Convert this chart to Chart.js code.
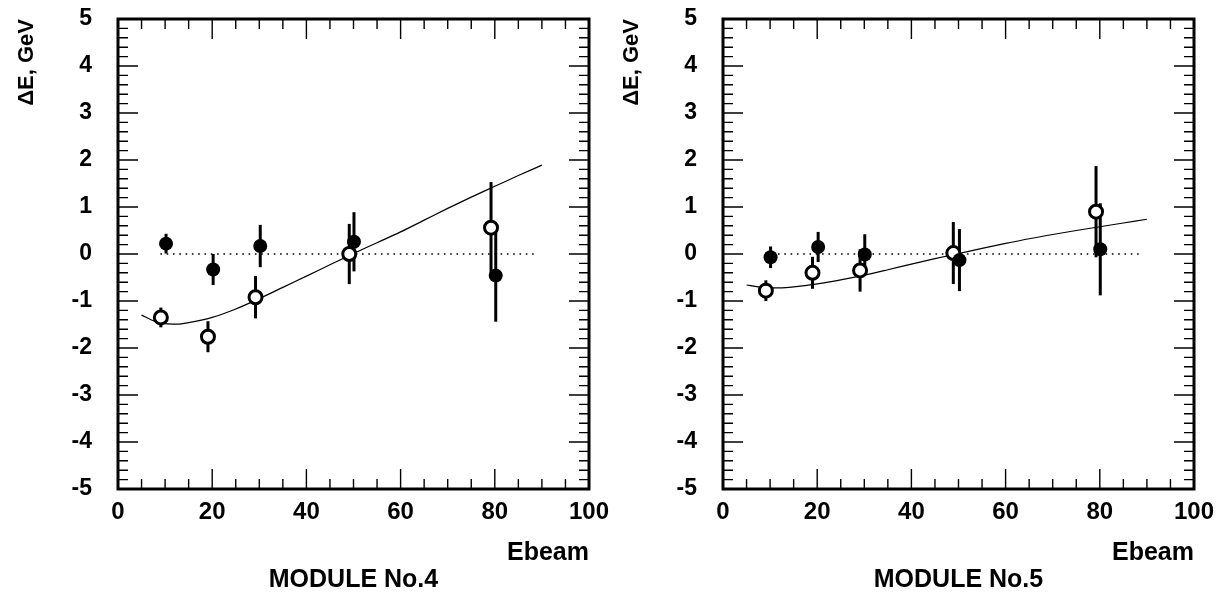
<!DOCTYPE html>
<html>
<head>
<meta charset="utf-8">
<script src="https://cdn.jsdelivr.net/npm/chart.js@4.4.0/dist/chart.umd.min.js"></script>
<style>
  body { margin: 0; background: #fff; }
  canvas { position: absolute; top: 0; }
  #module4 { left: 0; }
  #module5 { left: 605px; }
</style>
</head>
<body>
<canvas id="module4" width="610" height="593"></canvas>
<canvas id="module5" width="610" height="593"></canvas>
<script>
'use strict';

// axis ticks
const xTicks = [0, 20, 40, 60, 80, 100];
const yTicks = [-5, -4, -3, -2, -1, 0, 1, 2, 3, 4, 5];

// dotted zero line range
const zeroX = [9, 89];

// module 4 - open and filled points, with errors
const m4OpenX = [9.1, 19.1, 29.2, 49.1, 79.2];
const m4Open = [-1.35, -1.76, -0.92, 0.0, 0.56];
const m4OpenErr = [0.21, 0.33, 0.45, 0.64, 0.97];
const m4FilledX = [10.2, 20.2, 30.2, 50.1, 80.2];
const m4Filled = [0.22, -0.33, 0.17, 0.26, -0.46];
const m4FilledErr = [0.21, 0.33, 0.45, 0.63, 0.98];

// module 5
const m5OpenX = [9.1, 19.0, 29.1, 48.9, 79.2];
const m5Open = [-0.78, -0.40, -0.35, 0.02, 0.90];
const m5OpenErr = [0.22, 0.34, 0.45, 0.66, 0.97];
const m5FilledX = [10.1, 20.2, 30.1, 50.2, 80.1];
const m5Filled = [-0.07, 0.15, -0.01, -0.13, 0.10];
const m5FilledErr = [0.23, 0.32, 0.43, 0.66, 0.98];

// fit curves
const fitX = [5, 7.5, 10, 12.5, 15, 20, 25, 30, 35, 40, 45, 50, 55, 60, 65, 70, 75, 80, 85, 90];
const m4Fit = [-1.30, -1.42, -1.48, -1.49, -1.46, -1.35, -1.17, -0.95, -0.71, -0.47, -0.23, 0.01, 0.24, 0.47, 0.72, 0.97, 1.21, 1.44, 1.67, 1.89];
const m5Fit = [-0.66, -0.70, -0.72, -0.72, -0.70, -0.635, -0.55, -0.45, -0.335, -0.215, -0.10, 0.01, 0.12, 0.225, 0.325, 0.415, 0.50, 0.58, 0.66, 0.74];

const FONT = 'Liberation Sans';

function pts(xs, ys) {
  return xs.map((x, i) => ({ x: x, y: ys[i] }));
}

// error bars under the markers
const errorBars = {
  id: 'errorBars',
  beforeDatasetsDraw(chart) {
    const ctx = chart.ctx;
    const yScale = chart.scales.y;
    ctx.save();
    ctx.strokeStyle = '#000';
    ctx.lineWidth = 3;
    chart.data.datasets.forEach((ds, i) => {
      if (!ds.errors) return;
      const meta = chart.getDatasetMeta(i);
      ds.data.forEach((p, j) => {
        const px = meta.data[j].x;
        ctx.beginPath();
        ctx.moveTo(px, yScale.getPixelForValue(p.y - ds.errors[j]));
        ctx.lineTo(px, yScale.getPixelForValue(p.y + ds.errors[j]));
        ctx.stroke();
      });
    });
    ctx.restore();
  }
};

// box frame with inward ticks on all sides + module label
const frame = {
  id: 'frame',
  afterDraw(chart, args, opts) {
    const ctx = chart.ctx;
    const a = chart.chartArea;
    const xs = chart.scales.x;
    const ys = chart.scales.y;
    ctx.save();
    ctx.strokeStyle = '#000';
    ctx.lineWidth = 1.4;
    ctx.beginPath();
    for (let v = 0; v <= 100; v += 5) {
      const len = v % 20 === 0 ? 20 : 10;
      const px = xs.getPixelForValue(v);
      ctx.moveTo(px, a.bottom); ctx.lineTo(px, a.bottom - len);
      ctx.moveTo(px, a.top); ctx.lineTo(px, a.top + len);
    }
    for (let k = -25; k <= 25; k++) {
      const len = k % 5 === 0 ? 20 : 10;
      const py = ys.getPixelForValue(k / 5);
      ctx.moveTo(a.left, py); ctx.lineTo(a.left + len, py);
      ctx.moveTo(a.right, py); ctx.lineTo(a.right - len, py);
    }
    ctx.stroke();
    ctx.lineWidth = 3;
    ctx.strokeRect(a.left, a.top, a.right - a.left, a.bottom - a.top);
    ctx.fillStyle = '#000';
    ctx.font = 'bold 25px "' + FONT + '"';
    ctx.textAlign = 'center';
    ctx.textBaseline = 'middle';
    ctx.fillText(opts.label, (a.left + a.right) / 2, 580);
    ctx.restore();
  }
};

function makeChart(id, label, openX, open, openErr, filledX, filled, filledErr, fit, openOnTop) {
  const ctx = document.getElementById(id).getContext('2d');
  return new Chart(ctx, {
    type: 'scatter',
    data: {
      datasets: [
        {
          data: pts(fitX, fit),
          showLine: true,
          borderColor: '#000',
          borderWidth: 1.2,
          pointRadius: 0,
          cubicInterpolationMode: 'monotone',
          order: 5
        },
        {
          data: pts(zeroX, [0, 0]),
          showLine: true,
          borderColor: '#000',
          borderWidth: 1.6,
          borderDash: [1.6, 4.7],
          pointRadius: 0,
          order: 4
        },
        {
          data: pts(openX, open),
          errors: openErr,
          pointRadius: 6.5,
          borderWidth: 3,
          borderColor: '#000',
          backgroundColor: '#fff',
          order: openOnTop ? 1 : 2
        },
        {
          data: pts(filledX, filled),
          errors: filledErr,
          pointRadius: 7,
          borderWidth: 0,
          backgroundColor: '#000',
          order: openOnTop ? 2 : 1
        }
      ]
    },
    options: {
      responsive: false,
      animation: false,
      devicePixelRatio: 1,
      layout: { padding: { left: 0, right: 21, top: 19, bottom: 0 } },
      plugins: {
        legend: { display: false },
        tooltip: { enabled: false },
        frame: { label: label }
      },
      scales: {
        x: {
          type: 'linear',
          min: 0,
          max: 100,
          afterBuildTicks: s => { s.ticks = xTicks.map(v => ({ value: v })); },
          afterFit: s => { s.height = 104; s.paddingLeft = 0; s.paddingRight = 0; },
          grid: { display: false, drawTicks: false },
          border: { display: false },
          ticks: {
            color: '#000',
            maxRotation: 0,
            autoSkip: false,
            padding: 9,
            font: { family: FONT, weight: 'bold', size: 24 }
          },
          title: {
            display: true,
            text: 'Ebeam',
            align: 'end',
            color: '#000',
            font: { family: FONT, weight: 'bold', size: 25 },
            padding: { top: 0, bottom: 25 }
          }
        },
        y: {
          type: 'linear',
          min: -5,
          max: 5,
          afterBuildTicks: s => { s.ticks = yTicks.map(v => ({ value: v })); },
          afterFit: s => { s.width = 118; s.paddingTop = 0; s.paddingBottom = 0; },
          grid: { display: false, drawTicks: false },
          border: { display: false },
          ticks: {
            color: '#000',
            autoSkip: false,
            padding: 26,
            font: { family: FONT, weight: 'bold', size: 23 }
          },
          title: {
            display: true,
            text: 'ΔE, GeV',
            align: 'end',
            color: '#000',
            font: { family: FONT, weight: 'bold', size: 22 },
            padding: { top: 14, bottom: 0 }
          }
        }
      }
    },
    plugins: [errorBars, frame]
  });
}

makeChart('module4', 'MODULE No.4', m4OpenX, m4Open, m4OpenErr, m4FilledX, m4Filled, m4FilledErr, m4Fit, true);
makeChart('module5', 'MODULE No.5', m5OpenX, m5Open, m5OpenErr, m5FilledX, m5Filled, m5FilledErr, m5Fit, false);
</script>
</body>
</html>
